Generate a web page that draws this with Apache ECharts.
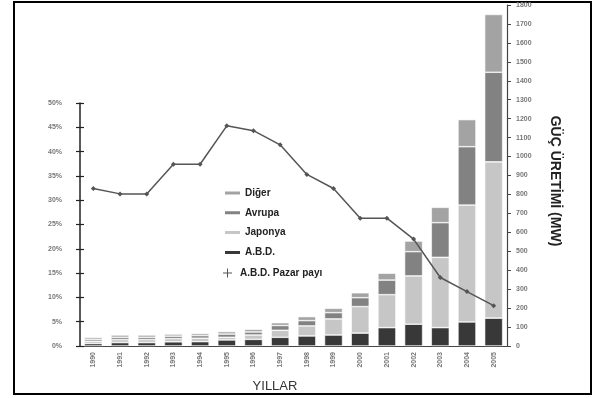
<!DOCTYPE html>
<html>
<head>
<meta charset="utf-8">
<script src="https://cdn.jsdelivr.net/npm/echarts@6/dist/echarts.min.js"></script>
<style>
  html, body { margin: 0; padding: 0; background: #fff; }
  #chart { width: 596px; height: 398px; }
</style>
</head>
<body>
<div id="chart"></div>
<script>
// Years on the category axis
const years = ['1990','1991','1992','1993','1994','1995','1996','1997',
               '1998','1999','2000','2001','2002','2003','2004','2005'];

// Installed power (MW) by region, stacked bars
const abd     = [13, 18, 18, 22, 23, 32, 35, 46, 53, 58, 68, 97, 115, 97, 127, 147];
const japonya = [12, 16, 16, 17, 18, 14, 23, 37, 53, 85, 140, 174, 255, 371, 617, 825];
const avrupa  = [10, 12, 12, 13, 14, 17, 16, 25, 28, 33, 47, 77, 128, 183, 308, 473];
const diger   = [10, 12, 12, 11, 11, 13, 14, 15, 21, 23, 26, 36, 56, 81, 143, 305];

// US market share (%)
const abdPazarPayi = [32.4, 31.3, 31.3, 37.4, 37.4, 45.3, 44.3, 41.4, 35.3, 32.4, 26.3, 26.3, 22.0, 14.1, 11.2, 8.3];

// Axis tick values
const mwTicks = { min: 0, max: 1800, interval: 100 };
const pctTicks = { min: 0, max: 50, interval: 5 };

const plusPath = 'path://M0,4L9,4L9,5L0,5Z M4,0L5,0L5,9L4,9Z';
const tickFont = { fontSize: 7, fontWeight: 'bold', color: '#777', fontFamily: 'Liberation Sans, Arial, sans-serif' };

const chart = echarts.init(document.getElementById('chart'), null, { renderer: 'canvas' });

const barSeries = (name, data, color) => ({
  name, type: 'bar', stack: 'mw', data,
  xAxisIndex: 0, yAxisIndex: 0,
  barWidth: 18,
  itemStyle: { color, borderColor: '#fff', borderWidth: 0.6 },
  emphasis: { disabled: true }
});

chart.setOption({
  animation: false,
  backgroundColor: '#fff',
  textStyle: { fontFamily: 'Liberation Sans, Arial, sans-serif' },
  grid: [
    { left: 80, right: 89, top: 5, bottom: 52 },
    { left: 80, right: 89, top: 103, bottom: 52 }
  ],
  legend: [
    {
      orient: 'vertical', left: 218, top: 183,
      itemWidth: 17, itemHeight: 5, itemGap: 9.8,
      icon: 'rect',
      selectedMode: false,
      data: ['Diğer', 'Avrupa', 'Japonya', 'A.B.D.'],
      textStyle: { fontSize: 10, fontWeight: 'bold', color: '#222', padding: [0, 0, 0, -1] }
    },
    {
      orient: 'vertical', left: 218, top: 263,
      itemWidth: 17, itemHeight: 9,
      selectedMode: false,
      data: [{ name: 'A.B.D. Pazar payı', icon: plusPath }],
      itemStyle: { color: '#555' },
      textStyle: { fontSize: 10, fontWeight: 'bold', color: '#222', padding: [0, 0, 0, -1] }
    }
  ],
  xAxis: [
    {
      type: 'category', gridIndex: 0, data: years,
      axisLine: { lineStyle: { color: '#444', width: 1.2 } },
      axisTick: { length: 3, lineStyle: { color: '#444' } },
      axisLabel: Object.assign({ rotate: 90, margin: 6, interval: 0 }, tickFont)
    },
    {
      type: 'category', gridIndex: 1, data: years, show: false
    }
  ],
  yAxis: [
    {
      type: 'value', gridIndex: 0, position: 'right',
      min: mwTicks.min, max: mwTicks.max, interval: mwTicks.interval,
      axisLine: { show: true, lineStyle: { color: '#444', width: 1.2 } },
      axisTick: { show: true, length: 4, lineStyle: { color: '#444' } },
      axisLabel: Object.assign({ margin: 9, formatter: v => String(v) }, tickFont),
      splitLine: { show: false }
    },
    {
      type: 'value', gridIndex: 1, position: 'left',
      min: pctTicks.min, max: pctTicks.max, interval: pctTicks.interval,
      axisLine: { show: true, lineStyle: { color: '#222', width: 1.5 } },
      axisTick: { show: true, length: 4, lineStyle: { color: '#222', width: 1.2 } },
      axisLabel: Object.assign({ margin: 18, formatter: '{value}%' }, tickFont),
      splitLine: { show: false }
    },
    {
      // inner half of the crossing ticks on the share axis
      type: 'value', gridIndex: 1, position: 'left',
      min: pctTicks.min, max: pctTicks.max, interval: pctTicks.interval,
      axisLine: { show: false },
      axisTick: { show: true, inside: true, length: 4, lineStyle: { color: '#222', width: 1.2 } },
      axisLabel: { show: false },
      splitLine: { show: false }
    }
  ],
  series: [
    barSeries('A.B.D.', abd, '#383838'),
    barSeries('Japonya', japonya, '#c6c6c6'),
    barSeries('Avrupa', avrupa, '#828282'),
    barSeries('Diğer', diger, '#a3a3a3'),
    {
      name: 'A.B.D. Pazar payı', type: 'line',
      xAxisIndex: 1, yAxisIndex: 1,
      data: abdPazarPayi,
      symbol: 'diamond', symbolSize: 5,
      lineStyle: { color: '#555', width: 1.5 },
      itemStyle: { color: '#555' },
      emphasis: { disabled: true },
      z: 5
    }
  ],
  graphic: [
    {
      type: 'rect', silent: true,
      shape: { x: 14, y: 2, width: 577, height: 392 },
      style: { fill: 'none', stroke: '#000', lineWidth: 2 }
    },
    {
      type: 'text', silent: true, x: 275, y: 386,
      style: {
        text: 'YILLAR', fontSize: 13, fill: '#333',
        fontFamily: 'Liberation Sans, Arial, sans-serif',
        align: 'center', verticalAlign: 'middle'
      }
    },
    {
      type: 'text', silent: true, x: 555, y: 181, rotation: -Math.PI / 2,
      style: {
        text: 'GÜÇ ÜRETİMİ (MW)', fontSize: 14, fontWeight: 'bold', fill: '#222',
        fontFamily: 'Liberation Sans, Arial, sans-serif',
        align: 'center', verticalAlign: 'middle'
      }
    }
  ]
});
</script>
</body>
</html>
